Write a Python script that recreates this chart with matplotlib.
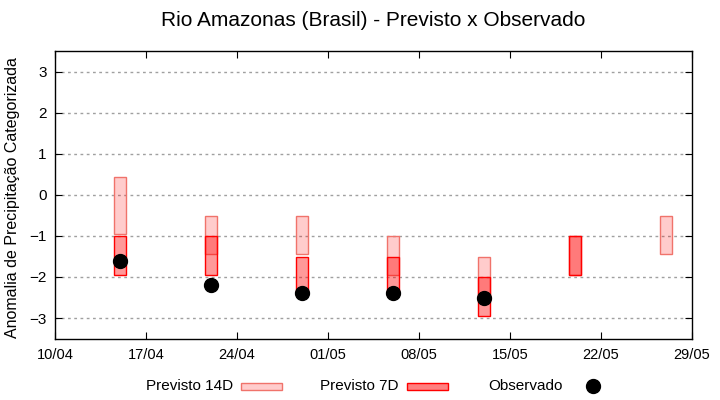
import datetime as dt
import matplotlib
matplotlib.use("Agg")
import matplotlib.pyplot as plt
import matplotlib.dates as mdates
from matplotlib.patches import Rectangle
from matplotlib.lines import Line2D

plt.rcParams['font.family'] = ['Liberation Sans', 'DejaVu Sans']

# previsto 14 dias (faixa superior / inferior)
datas_14d = ["15/04", "22/04", "29/04", "06/05", "13/05", "20/05", "27/05"]
topo_14d = [0.45, -0.5, -0.5, -1.0, -1.5, -1.0, -0.5]
base_14d = [-0.95, -1.45, -1.45, -1.95, -2.45, -1.95, -1.45]

# previsto 7 dias
datas_7d = ["15/04", "22/04", "29/04", "06/05", "13/05", "20/05"]
topo_7d = [-1.0, -1.0, -1.5, -1.5, -2.0, -1.0]
base_7d = [-1.95, -1.95, -2.45, -2.45, -2.95, -1.95]

# observado
datas_obs = ["15/04", "22/04", "29/04", "06/05", "13/05"]
observado = [-1.6, -2.2, -2.4, -2.4, -2.5]

ticks_x = ["10/04", "17/04", "24/04", "01/05", "08/05", "15/05", "22/05", "29/05"]


def to_date(s):
    d, m = s.split("/")
    return dt.datetime(2024, int(m), int(d))


def plot():
    fig = plt.figure(figsize=(7.2, 4), dpi=100)
    ax = fig.add_axes([55 / 720, 61.5 / 400, 637 / 720, 287 / 400])

    x14 = [to_date(s) for s in datas_14d]
    x7 = [to_date(s) for s in datas_7d]
    xo = [to_date(s) for s in datas_obs]

    alt14 = [t - b for t, b in zip(topo_14d, base_14d)]
    alt7 = [t - b for t, b in zip(topo_7d, base_7d)]

    ax.bar(x14, alt14, bottom=base_14d, width=0.9,
           color=(1, 0, 0, 0.2), edgecolor=(0.94, 0.45, 0.42), linewidth=1.0, zorder=2)
    ax.bar(x7, alt7, bottom=base_7d, width=0.9,
           color=(1, 0, 0, 0.4), edgecolor="red", linewidth=1.0, zorder=3)
    ax.plot(xo, observado, "o", color="black", markersize=10, zorder=4)

    ax.set_xlim(to_date("10/04"), to_date("29/05"))
    ax.set_ylim(-3.5, 3.5)
    ax.set_xticks([to_date(s) for s in ticks_x])
    ax.xaxis.set_major_formatter(mdates.DateFormatter("%d/%m"))
    ax.set_yticks([-3, -2, -1, 0, 1, 2, 3])
    ax.tick_params(direction="in", top=True, right=True, length=5)
    ax.tick_params(axis="x", pad=7, labelsize=10.5)
    ax.tick_params(axis="y", pad=6, labelsize=11)
    ax.grid(axis="y", linestyle=(0, (2, 2.5)), color="#a0a0a0", linewidth=1.0)
    ax.set_axisbelow(True)
    for s in ax.spines.values():
        s.set_linewidth(1.0)

    ax.set_ylabel("Anomalia de Precipitação Categorizada", fontsize=11.5)
    ax.yaxis.set_label_coords(-0.055, 0.49)
    fig.text(373 / 720, 1 - 20 / 400, "Rio Amazonas (Brasil) - Previsto x Observado",
             ha="center", va="center", fontsize=15)

    # legenda no estilo gnuplot
    ly = 1 - 386 / 400
    fig.text(233 / 720, ly, "Previsto 14D", ha="right", va="center", fontsize=11)
    fig.patches.append(Rectangle((241 / 720, ly - 3.5 / 400), 41 / 720, 7 / 400,
                                 transform=fig.transFigure, facecolor=(1, 0.8, 0.8),
                                 edgecolor=(0.94, 0.45, 0.42), linewidth=1.0))
    fig.text(398 / 720, ly, "Previsto 7D", ha="right", va="center", fontsize=11)
    fig.patches.append(Rectangle((407 / 720, ly - 3.5 / 400), 41 / 720, 7 / 400,
                                 transform=fig.transFigure, facecolor=(1, 0.5, 0.5),
                                 edgecolor="red", linewidth=1.0))
    fig.text(563 / 720, ly, "Observado", ha="right", va="center", fontsize=11)
    fig.lines.append(Line2D([593 / 720], [ly], marker="o", color="black", markersize=10,
                            transform=fig.transFigure))

    fig.savefig("out.png", dpi=100)


plot()
